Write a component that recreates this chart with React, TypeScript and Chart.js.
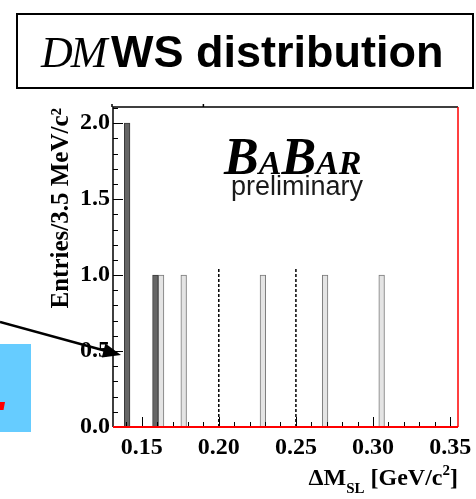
import React, { useEffect, useRef } from "react";
import { Chart, registerables } from "chart.js";

Chart.register(...registerables);

// Histogram binning: 3.5 MeV/c^2 bins between 0.1365 and 0.35 GeV/c^2
const BIN_LOW = 0.1365;
const BIN_WIDTH = 0.0035;
const BIN_COUNT = 61;
const X_MAX = 0.35;
const Y_MAX = 2.1;

// Filled (dark) histogram: lower bin edges and entries
const darkBinEdges = [0.1435, 0.161];
const darkEntries = [2, 1];

// Light histogram: lower bin edges and entries
const lightBinEdges = [0.1645, 0.1785, 0.2275, 0.266, 0.301];
const lightEntries = [1, 1, 1, 1, 1];

// Dotted cut lines
const cutPositions = [0.2, 0.25];
const cutHeight = 1.05;

const X_STEP = 0.01;
const Y_STEP = 0.1;

const SERIF = "'Liberation Serif', 'Times New Roman', serif";
const SANS = "'Liberation Sans', Arial, sans-serif";

const binCenters: string[] = Array.from({ length: BIN_COUNT }, (_, i) =>
  (BIN_LOW + (i + 0.5) * BIN_WIDTH).toFixed(5)
);

function fillBins(edges: number[], entries: number[]): (number | null)[] {
  const out: (number | null)[] = new Array(BIN_COUNT).fill(null);
  edges.forEach((e, k) => {
    const idx = Math.round((e - BIN_LOW) / BIN_WIDTH);
    out[idx] = entries[k];
  });
  return out;
}

const xLabel = (v: number) => {
  const h = Math.round(v * 100);
  return h % 5 === 0 ? (h / 100).toFixed(2) : "";
};
const yLabel = (v: number) => {
  const t = Math.round(v * 10);
  return t % 5 === 0 ? (t / 10).toFixed(1) : "";
};

// Inside tick marks, frame lines and the x-axis title with sub/superscripts
const framePlugin = {
  id: "histFrame",
  afterDraw(chart: any) {
    const { ctx, chartArea: a } = chart;
    const xs = chart.scales.x;
    const ys = chart.scales.y;
    ctx.save();
    ctx.strokeStyle = "#000";
    ctx.lineWidth = 1;
    xs.ticks.forEach((t: any) => {
      const px = Math.round(xs.getPixelForValue(t.value)) + 0.5;
      const len = xLabel(t.value) ? 10 : 5;
      ctx.beginPath();
      ctx.moveTo(px, a.bottom);
      ctx.lineTo(px, a.bottom - len);
      ctx.stroke();
    });
    ys.ticks.forEach((t: any) => {
      const py = Math.round(ys.getPixelForValue(t.value)) + 0.5;
      const len = yLabel(t.value) ? 10 : 5;
      ctx.beginPath();
      ctx.moveTo(a.left, py);
      ctx.lineTo(a.left + len, py);
      ctx.stroke();
    });

    // frame: black left/top, red right/bottom
    ctx.lineWidth = 1.5;
    ctx.strokeStyle = "#000";
    ctx.beginPath();
    ctx.moveTo(a.left, a.bottom);
    ctx.lineTo(a.left, a.top - 1);
    ctx.lineTo(a.right, a.top - 1);
    ctx.stroke();
    // small bracket over the top-left of the frame
    const bx = a.left + (a.right - a.left) * 0.262;
    ctx.beginPath();
    ctx.moveTo(a.left - 1, a.top - 1);
    ctx.lineTo(a.left - 1, a.top - 4);
    ctx.moveTo(bx, a.top - 1);
    ctx.lineTo(bx, a.top - 4);
    ctx.stroke();

    ctx.strokeStyle = "#ff0000";
    ctx.beginPath();
    ctx.moveTo(a.right, a.top - 1);
    ctx.lineTo(a.right, a.bottom);
    ctx.stroke();
    ctx.lineWidth = 2;
    ctx.beginPath();
    ctx.moveTo(a.left, a.bottom);
    ctx.lineTo(a.right, a.bottom);
    ctx.stroke();

    // x-axis title: ΔM_SL [GeV/c^2]
    const big = `bold 24px ${SERIF}`;
    const small = `bold 15px ${SERIF}`;
    const parts: { t: string; f: string; dy: number }[] = [
      { t: "ΔM", f: big, dy: 0 },
      { t: "SL", f: small, dy: 8 },
      { t: " [GeV/c", f: big, dy: 0 },
      { t: "2", f: small, dy: -10 },
      { t: "]", f: big, dy: 0 },
    ];
    let total = 0;
    parts.forEach((p) => {
      ctx.font = p.f;
      total += ctx.measureText(p.t).width;
    });
    let x = a.right - total;
    const base = 485;
    ctx.fillStyle = "#000";
    ctx.textBaseline = "alphabetic";
    ctx.textAlign = "left";
    parts.forEach((p) => {
      ctx.font = p.f;
      ctx.fillText(p.t, x, base + p.dy);
      x += ctx.measureText(p.t).width;
    });
    ctx.restore();
  },
};

function HistogramChart() {
  const ref = useRef<HTMLCanvasElement | null>(null);

  useEffect(() => {
    if (!ref.current) return;
    const cutSets = cutPositions.map((c) => ({
      type: "line" as const,
      xAxisID: "x",
      yAxisID: "y",
      data: [
        { x: c, y: 0 },
        { x: c, y: cutHeight },
      ],
      borderColor: "#000",
      borderWidth: 1.5,
      borderDash: [3, 2],
      pointRadius: 0,
      fill: false,
    }));

    const chart = new Chart(ref.current, {
      type: "bar",
      data: {
        labels: binCenters,
        datasets: [
          {
            type: "bar",
            xAxisID: "bins",
            yAxisID: "y",
            data: fillBins(darkBinEdges, darkEntries),
            backgroundColor: "#666666",
            borderColor: "#3a3a3a",
            borderWidth: 1,
            barPercentage: 1,
            categoryPercentage: 1,
            grouped: false,
          },
          {
            type: "bar",
            xAxisID: "bins",
            yAxisID: "y",
            data: fillBins(lightBinEdges, lightEntries),
            backgroundColor: "#e4e4e4",
            borderColor: "#7a7a7a",
            borderWidth: 1,
            barPercentage: 1,
            categoryPercentage: 1,
            grouped: false,
          },
          ...(cutSets as any[]),
        ],
      },
      options: {
        responsive: false,
        animation: false,
        devicePixelRatio: 1,
        events: [],
        layout: { padding: { top: 108, right: 18, left: 0, bottom: 0 } },
        plugins: {
          legend: { display: false },
          tooltip: { enabled: false },
          title: { display: false },
        },
        scales: {
          bins: {
            type: "category",
            display: false,
            offset: true,
            grid: { display: false },
          },
          x: {
            type: "linear",
            position: "bottom",
            min: BIN_LOW,
            max: X_MAX,
            grid: { display: false, drawTicks: false },
            border: { display: false },
            ticks: {
              stepSize: X_STEP,
              includeBounds: false,
              autoSkip: false,
              maxRotation: 0,
              minRotation: 0,
              padding: 6,
              color: "#000",
              font: { family: SERIF, size: 24, weight: "bold" },
              callback: (v: any) => xLabel(Number(v)),
            },
            afterFit: (s: any) => {
              s.height = 72;
              s.paddingLeft = 0;
              s.paddingRight = 0;
            },
          },
          y: {
            type: "linear",
            min: 0,
            max: Y_MAX,
            grid: { display: false, drawTicks: false },
            border: { display: false },
            ticks: {
              stepSize: Y_STEP,
              includeBounds: false,
              autoSkip: false,
              padding: 3,
              color: "#000",
              font: { family: SERIF, size: 24, weight: "bold" },
              callback: (v: any) => yLabel(Number(v)),
            },
            title: {
              display: true,
              text: "Entries/3.5 MeV/c²",
              align: "end",
              color: "#000",
              font: { family: SERIF, size: 25, weight: "bold" },
              padding: { top: 47, bottom: 0 },
            },
            afterFit: (s: any) => {
              s.width = 113;
              s.paddingTop = 0;
              s.paddingBottom = 0;
            },
          },
        },
      } as any,
      plugins: [framePlugin],
    });
    return () => chart.destroy();
  }, []);

  return (
    <canvas
      ref={ref}
      width={476}
      height={499}
      style={{ position: "absolute", left: 0, top: 0, width: 476, height: 499 }}
    />
  );
}

export default function App() {
  return (
    <div
      style={{
        position: "fixed",
        left: 0,
        top: 0,
        width: 476,
        height: 499,
        background: "#fff",
        overflow: "hidden",
      }}
    >
      <HistogramChart />

      {/* heading box */}
      <div
        style={{
          position: "absolute",
          left: 16,
          top: 13,
          width: 458,
          height: 76,
          border: "2px solid #000",
          boxSizing: "border-box",
        }}
      />
      <div
        style={{
          position: "absolute",
          left: 41,
          top: 29,
          whiteSpace: "nowrap",
          fontFamily: SANS,
          fontSize: 45,
          lineHeight: "45px",
          color: "#000",
        }}
      >
        <span style={{ fontFamily: SERIF, fontStyle: "italic", fontSize: 44, letterSpacing: -2 }}>
          DM
        </span>
        <span style={{ fontSize: 20 }}> </span>
        <span style={{ fontWeight: "bold" }}>WS distribution</span>
      </div>

      {/* experiment logo */}
      <div
        style={{
          position: "absolute",
          left: 224,
          top: 131,
          whiteSpace: "nowrap",
          fontFamily: SERIF,
          fontStyle: "italic",
          fontWeight: "bold",
          fontSize: 52,
          lineHeight: "52px",
          color: "#000",
        }}
      >
        <span>B</span>
        <span style={{ fontSize: 34 }}>A</span>
        <span>B</span>
        <span style={{ fontSize: 34 }}>AR</span>
      </div>
      <div
        style={{
          position: "absolute",
          left: 231,
          top: 173,
          whiteSpace: "nowrap",
          fontFamily: SANS,
          fontSize: 27,
          lineHeight: "27px",
          color: "#1a1a1a",
        }}
      >
        preliminary
      </div>

      {/* pointer arrow and neighbouring slide pieces */}
      <svg
        width={476}
        height={499}
        style={{ position: "absolute", left: 0, top: 0, pointerEvents: "none" }}
      >
        <rect x={0} y={344} width={31} height={88} fill="#66ccff" />
        <polygon points="0,402 5,402 3.5,410 0,410" fill="#ff0000" />
        <line x1={0} y1={322} x2={106} y2={351} stroke="#000" strokeWidth={2.5} />
        <polygon points="121,355 101.8,357.6 105.4,343.5" fill="#000" />
      </svg>
    </div>
  );
}
